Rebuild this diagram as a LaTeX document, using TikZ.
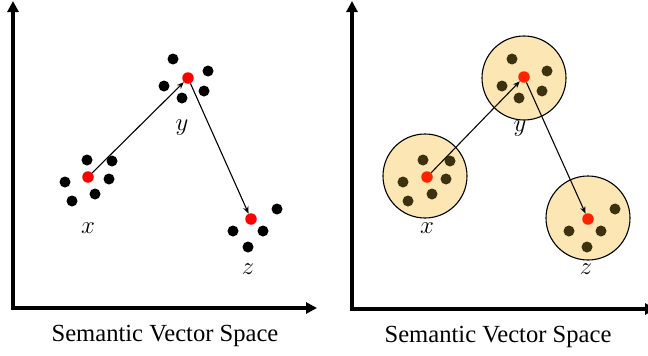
\documentclass[tikz,border=0pt]{standalone}
\usepackage{fontspec}
\setmainfont{Liberation Serif}
\usetikzlibrary{arrows.meta}
\definecolor{cfill}{HTML}{FCE6B4}
\definecolor{ddot}{HTML}{3D3210}
\definecolor{rdot}{HTML}{FF2200}
\begin{document}
\begin{tikzpicture}[x=1pt,y=-1pt,
  axis/.style={line width=3.6pt,-{Triangle[length=11pt,width=11pt]}},
  bdot/.style={circle,fill=black,inner sep=0pt,minimum size=11pt},
  rdotl/.style={circle,fill=red,inner sep=0pt,minimum size=11.5pt},
  bdotr/.style={circle,fill=ddot,inner sep=0pt,minimum size=11pt},
  rdotr/.style={circle,fill=rdot,inner sep=0pt,minimum size=11.5pt},
  arr/.style={line width=1.1pt,-{Stealth[length=7pt,width=5.5pt]}},
  arrr/.style={line width=1.1pt,draw=black!85!ddot,-{Stealth[length=7pt,width=5.5pt]}},
  clus/.style={circle,draw=black,line width=1.1pt,fill=cfill,minimum size=84pt,inner sep=0pt},
  lab/.style={font=\fontsize{23}{26}\selectfont},
  captxt/.style={font=\fontsize{24.6}{27}\selectfont}]
\useasboundingbox (0,0) rectangle (648,356);
% ---------- left panel ----------
\coordinate (lo) at (13,308);
\coordinate (lt) at (13,1);
\coordinate (lr) at (317,308);
\draw[axis] (lo) -- (lt);
\draw[axis] ([xshift=-1.8pt]lo) -- (lr);
% x cluster
\node[bdot] (lx1) at (87,160) {};
\node[bdot] (lx2) at (112,161) {};
\node[bdot] (lx3) at (65,182) {};
\node[bdot] (lx4) at (109,179) {};
\node[bdot] (lx5) at (95,194) {};
\node[bdot] (lx6) at (72,201) {};
\node[rdotl] (lxr) at (88,177) {};
% y cluster
\node[bdot] (ly1) at (173,59) {};
\node[bdot] (ly2) at (208,71) {};
\node[bdot] (ly3) at (164,86) {};
\node[bdot] (ly4) at (182,98) {};
\node[bdot] (ly5) at (204,91) {};
\node[rdotl] (lyr) at (188,78) {};
% z cluster
\node[bdot] (lz1) at (277,209) {};
\node[bdot] (lz2) at (233,231) {};
\node[bdot] (lz3) at (263,231) {};
\node[bdot] (lz4) at (248,247) {};
\node[rdotl] (lzr) at (251,219) {};
\draw[arr] (lxr) -- (lyr);
\draw[arr] (lyr) -- (lzr);
\node[lab] (lxl) at (88,228) {$x$};
\node[lab] (lyl) at (182,128) {$y$};
\node[lab] (lzl) at (248,269) {$z$};
\node[captxt] (lcap) at (165,336) {Semantic Vector Space};
% ---------- right panel ----------
\coordinate (ro) at (352,309);
\coordinate (rt) at (352,1);
\coordinate (rr) at (656,309);
\draw[axis] (ro) -- (rt);
\draw[axis] ([xshift=-1.8pt]ro) -- (rr);
\node[clus] (cx) at (425,176) {};
\node[clus] (cy) at (524,78) {};
\node[clus] (cz) at (588,218) {};
% x cluster
\node[bdotr] (rx1) at (423,160) {};
\node[bdotr] (rx2) at (450,161) {};
\node[bdotr] (rx3) at (403,182) {};
\node[bdotr] (rx4) at (446,179) {};
\node[bdotr] (rx5) at (432,194) {};
\node[bdotr] (rx6) at (408,201) {};
\node[rdotr] (rxr) at (427,177) {};
% y cluster
\node[bdotr] (ry1) at (512,59) {};
\node[bdotr] (ry2) at (547,71) {};
\node[bdotr] (ry3) at (502,86) {};
\node[bdotr] (ry4) at (519,98) {};
\node[bdotr] (ry5) at (542,91) {};
\node[rdotr] (ryr) at (524,77) {};
% z cluster
\node[bdotr] (rz1) at (615,209) {};
\node[bdotr] (rz2) at (569,231) {};
\node[bdotr] (rz3) at (601,231) {};
\node[bdotr] (rz4) at (587,247) {};
\node[rdotr] (rzr) at (588,219) {};
\draw[arrr] (rxr) -- (ryr);
\draw[arrr] (ryr) -- (rzr);
\node[lab] (rxl) at (427,228) {$x$};
\node[lab] (ryl) at (520,129) {$y$};
\node[lab] (rzl) at (586,269) {$z$};
\node[captxt] (rcap) at (498,337) {Semantic Vector Space};
\end{tikzpicture}
\end{document}
